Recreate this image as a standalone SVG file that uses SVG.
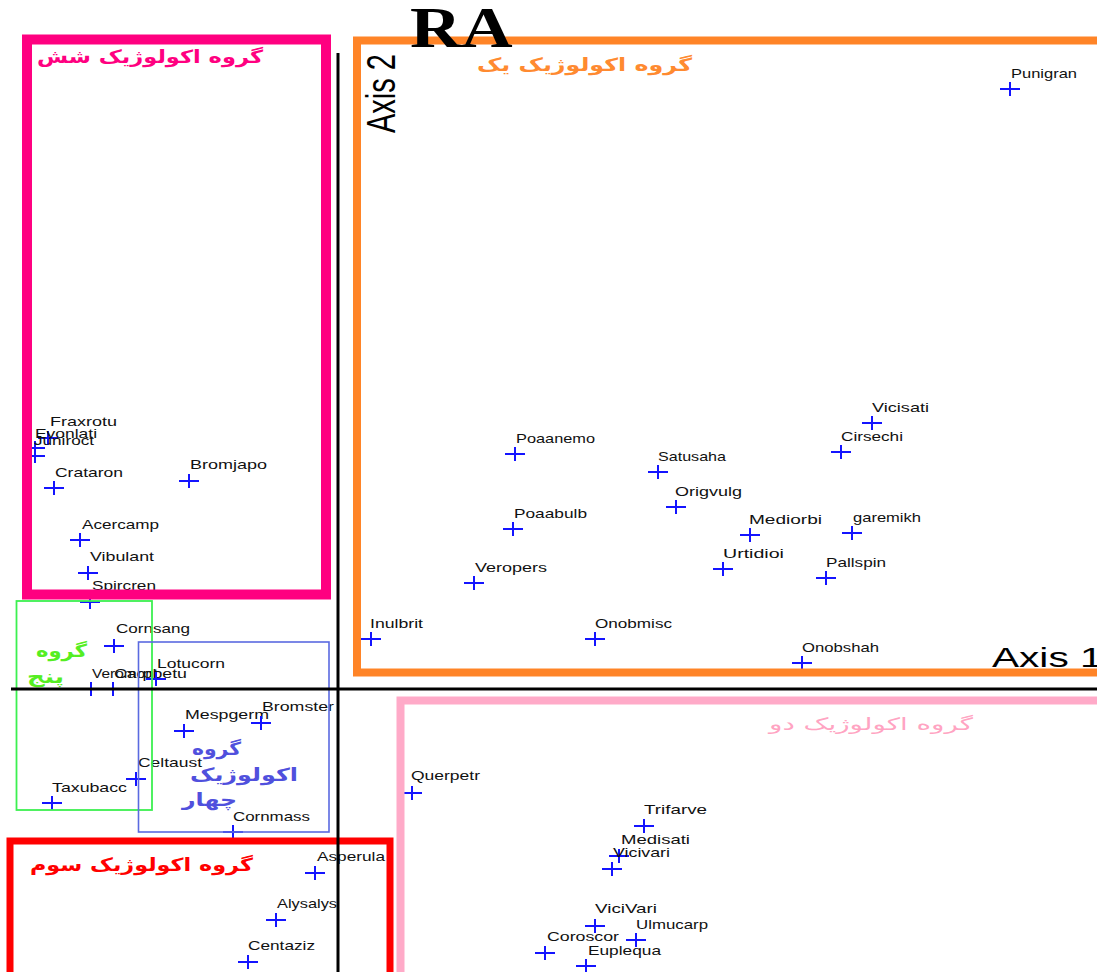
<svg xmlns="http://www.w3.org/2000/svg" xmlns:xlink="http://www.w3.org/1999/xlink" width="1097" height="972" viewBox="0 0 1097 972">
<style>
.pt use{stroke:#1414ff;stroke-width:2;fill:none}
.pt text{font-family:"Liberation Sans",Arial,sans-serif;font-size:13px;fill:#111;}
.fr{fill:none}
.fa{font-family:"DejaVu Sans",sans-serif;font-weight:bold;font-size:18px}
.ax{font-family:"Liberation Sans",Arial,sans-serif;fill:#000}
</style>
<defs>
<path id="c" d="M-10,0H10M0,-7V7"/>
</defs>
<rect width="1097" height="972" fill="#fff"/>
<g id="points">
<g id="n-punigran" class="pt"><use href="#c" x="1010" y="89"/><text x="1011" y="78" textLength="66" lengthAdjust="spacingAndGlyphs">Punigran</text></g>
<g id="n-vicisati" class="pt"><use href="#c" x="872" y="423"/><text x="872" y="412" textLength="57" lengthAdjust="spacingAndGlyphs">Vicisati</text></g>
<g id="n-cirsechi" class="pt"><use href="#c" x="841" y="452"/><text x="841" y="441" textLength="62" lengthAdjust="spacingAndGlyphs">Cirsechi</text></g>
<g id="n-mediorbi" class="pt"><use href="#c" x="750" y="535"/><text x="749" y="524" textLength="73" lengthAdjust="spacingAndGlyphs">Mediorbi</text></g>
<g id="n-garemikh" class="pt"><use href="#c" x="852" y="533"/><text x="853" y="522" textLength="68" lengthAdjust="spacingAndGlyphs">garemikh</text></g>
<g id="n-urtidioi" class="pt"><use href="#c" x="723" y="569"/><text x="723" y="558" textLength="61" lengthAdjust="spacingAndGlyphs">Urtidioi</text></g>
<g id="n-pallspin" class="pt"><use href="#c" x="826" y="578"/><text x="826" y="567" textLength="60" lengthAdjust="spacingAndGlyphs">Pallspin</text></g>
<g id="n-onobshah" class="pt"><use href="#c" x="802" y="663"/><text x="802" y="652" textLength="77" lengthAdjust="spacingAndGlyphs">Onobshah</text></g>
<g id="n-satusaha" class="pt"><use href="#c" x="658" y="472"/><text x="658" y="461" textLength="68" lengthAdjust="spacingAndGlyphs">Satusaha</text></g>
<g id="n-origvulg" class="pt"><use href="#c" x="676" y="507"/><text x="675" y="496" textLength="67" lengthAdjust="spacingAndGlyphs">Origvulg</text></g>
<g id="n-poaanemo" class="pt"><use href="#c" x="515" y="454"/><text x="516" y="443" textLength="79" lengthAdjust="spacingAndGlyphs">Poaanemo</text></g>
<g id="n-poaabulb" class="pt"><use href="#c" x="513" y="529"/><text x="514" y="518" textLength="73" lengthAdjust="spacingAndGlyphs">Poaabulb</text></g>
<g id="n-veropers" class="pt"><use href="#c" x="474" y="583"/><text x="475" y="572" textLength="72" lengthAdjust="spacingAndGlyphs">Veropers</text></g>
<g id="n-inulbrit" class="pt"><use href="#c" x="371" y="639"/><text x="370" y="628" textLength="53" lengthAdjust="spacingAndGlyphs">Inulbrit</text></g>
<g id="n-onobmisc" class="pt"><use href="#c" x="595" y="639"/><text x="595" y="628" textLength="77" lengthAdjust="spacingAndGlyphs">Onobmisc</text></g>
<g id="n-fraxrotu" class="pt"><use href="#c" x="48" y="438"/><text x="50" y="426" textLength="67" lengthAdjust="spacingAndGlyphs">Fraxrotu</text></g>
<g id="n-evonlati" class="pt"><use href="#c" x="35" y="448"/><text x="35" y="438" textLength="62" lengthAdjust="spacingAndGlyphs">Evonlati</text></g>
<g id="n-juniroct" class="pt"><use href="#c" x="35" y="456"/><text x="34" y="445" textLength="60" lengthAdjust="spacingAndGlyphs">Juniroct</text></g>
<g id="n-crataron" class="pt"><use href="#c" x="54" y="488"/><text x="55" y="477" textLength="68" lengthAdjust="spacingAndGlyphs">Crataron</text></g>
<g id="n-bromjapo" class="pt"><use href="#c" x="189" y="481"/><text x="190" y="469" textLength="77" lengthAdjust="spacingAndGlyphs">Bromjapo</text></g>
<g id="n-acercamp" class="pt"><use href="#c" x="80" y="540"/><text x="82" y="529" textLength="77" lengthAdjust="spacingAndGlyphs">Acercamp</text></g>
<g id="n-vibulant" class="pt"><use href="#c" x="88" y="573"/><text x="90" y="561" textLength="64" lengthAdjust="spacingAndGlyphs">Vibulant</text></g>
<g id="n-spircren" class="pt"><use href="#c" x="90" y="602"/><text x="92" y="590" textLength="64" lengthAdjust="spacingAndGlyphs">Spircren</text></g>
<g id="n-cornsang" class="pt"><use href="#c" x="114" y="646"/><text x="116" y="633" textLength="74" lengthAdjust="spacingAndGlyphs">Cornsang</text></g>
<g id="n-veromont" class="pt"><use href="#c" x="91" y="689"/><text x="92" y="678" textLength="66" lengthAdjust="spacingAndGlyphs">Veromont</text></g>
<g id="n-carpbetu" class="pt"><use href="#c" x="113" y="689"/><text x="114" y="678" textLength="73" lengthAdjust="spacingAndGlyphs">Carpbetu</text></g>
<g id="n-lotucorn" class="pt"><use href="#c" x="156" y="679"/><text x="157" y="668" textLength="68" lengthAdjust="spacingAndGlyphs">Lotucorn</text></g>
<g id="n-mespgerm" class="pt"><use href="#c" x="184" y="731"/><text x="185" y="719" textLength="84" lengthAdjust="spacingAndGlyphs">Mespgerm</text></g>
<g id="n-bromster" class="pt"><use href="#c" x="261" y="723"/><text x="262" y="711" textLength="72" lengthAdjust="spacingAndGlyphs">Bromster</text></g>
<g id="n-celtaust" class="pt"><use href="#c" x="136" y="779"/><text x="138" y="767" textLength="64" lengthAdjust="spacingAndGlyphs">Celtaust</text></g>
<g id="n-taxubacc" class="pt"><use href="#c" x="52" y="803"/><text x="52" y="792" textLength="75" lengthAdjust="spacingAndGlyphs">Taxubacc</text></g>
<g id="n-cornmass" class="pt"><use href="#c" x="233" y="832"/><text x="233" y="821" textLength="77" lengthAdjust="spacingAndGlyphs">Cornmass</text></g>
<g id="n-asperula" class="pt"><use href="#c" x="315" y="873"/><text x="317" y="861" textLength="68" lengthAdjust="spacingAndGlyphs">Asperula</text></g>
<g id="n-alysalys" class="pt"><use href="#c" x="276" y="920"/><text x="277" y="908" textLength="60" lengthAdjust="spacingAndGlyphs">Alysalys</text></g>
<g id="n-centaziz" class="pt"><use href="#c" x="248" y="962"/><text x="248" y="950" textLength="67" lengthAdjust="spacingAndGlyphs">Centaziz</text></g>
<g id="n-querpetr" class="pt"><use href="#c" x="412" y="793"/><text x="411" y="780" textLength="69" lengthAdjust="spacingAndGlyphs">Querpetr</text></g>
<g id="n-trifarve" class="pt"><use href="#c" x="644" y="826"/><text x="644" y="814" textLength="63" lengthAdjust="spacingAndGlyphs">Trifarve</text></g>
<g id="n-medisati" class="pt"><use href="#c" x="619" y="856"/><text x="621" y="844" textLength="69" lengthAdjust="spacingAndGlyphs">Medisati</text></g>
<g id="n-vicivari" class="pt"><use href="#c" x="612" y="869"/><text x="613" y="857" textLength="57" lengthAdjust="spacingAndGlyphs">Vicivari</text></g>
<g id="n-vicivari2" class="pt"><use href="#c" x="595" y="926"/><text x="595" y="913" textLength="62" lengthAdjust="spacingAndGlyphs">ViciVari</text></g>
<g id="n-ulmucarp" class="pt"><use href="#c" x="636" y="940"/><text x="636" y="929" textLength="72" lengthAdjust="spacingAndGlyphs">Ulmucarp</text></g>
<g id="n-coroscor" class="pt"><use href="#c" x="545" y="953"/><text x="547" y="941" textLength="72" lengthAdjust="spacingAndGlyphs">Coroscor</text></g>
<g id="n-euplequa" class="pt"><use href="#c" x="586" y="966"/><text x="588" y="955" textLength="73" lengthAdjust="spacingAndGlyphs">Euplequa</text></g>
</g>
<g id="group6">
<rect class="fr" x="27" y="39.5" width="299" height="555" stroke="#ff0080" stroke-width="10"/>
<text class="fa" x="37" y="63" fill="#ff0080" textLength="226" lengthAdjust="spacingAndGlyphs">گروه اکولوژیک شش</text>
</g>
<g id="group1">
<rect class="fr" x="357" y="40.5" width="800" height="632" stroke="#ff8427" stroke-width="8"/>
<text class="fa" x="477" y="71" fill="#ff8a30" font-size="17" textLength="215" lengthAdjust="spacingAndGlyphs">گروه اکولوژیک یک</text>
</g>
<g id="group5">
<rect class="fr" x="16.5" y="601" width="135.5" height="209" stroke="#3cf050" stroke-width="1.8"/>
<text class="fa" x="36" y="657" fill="#55ee22" font-size="20" textLength="51" lengthAdjust="spacingAndGlyphs">گروه</text>
<text class="fa" x="27" y="683" fill="#55ee22" font-size="20" textLength="37" lengthAdjust="spacingAndGlyphs">پنج</text>
</g>
<g id="group4">
<rect class="fr" x="138.5" y="642" width="190.5" height="190" stroke="#5a6ae0" stroke-width="1.6"/>
<text class="fa" x="192" y="755" fill="#5050dd" font-size="20" textLength="49" lengthAdjust="spacingAndGlyphs">گروه</text>
<text class="fa" x="190" y="781" fill="#5050dd" font-size="20" textLength="108" lengthAdjust="spacingAndGlyphs">اکولوژیک</text>
<text class="fa" x="182" y="806" fill="#5050dd" font-size="20" textLength="55" lengthAdjust="spacingAndGlyphs">چهار</text>
</g>
<g id="group3">
<rect class="fr" x="10" y="841" width="380" height="200" stroke="#ff0000" stroke-width="7"/>
<text class="fa" x="30" y="871" fill="#ff0000" textLength="223" lengthAdjust="spacingAndGlyphs">گروه اکولوژیک سوم</text>
</g>
<g id="group2">
<rect class="fr" x="400.5" y="700.5" width="750" height="300" stroke="#ffaac8" stroke-width="8"/>
<text x="769" y="730" fill="#ffa4c2" font-family="DejaVu Sans,sans-serif" font-size="17" textLength="204" lengthAdjust="spacingAndGlyphs">گروه اکولوژیک دو</text>
</g>
<g id="axes" stroke="#000" stroke-width="3">
<line x1="338" y1="53" x2="338" y2="972"/>
<line x1="11" y1="689" x2="1097" y2="689"/>
</g>
<g id="titles">
<text class="ax" transform="translate(395,133) scale(1.4,1) rotate(-90)" font-size="29">Axis 2</text>
<text class="ax" transform="translate(992,667) scale(1.45,1)" font-size="28">Axis 1</text>
<text transform="translate(410,47) scale(1.27,1)" font-family="Liberation Serif,serif" font-weight="bold" font-size="56" fill="#000">RA</text>
</g>
</svg>
